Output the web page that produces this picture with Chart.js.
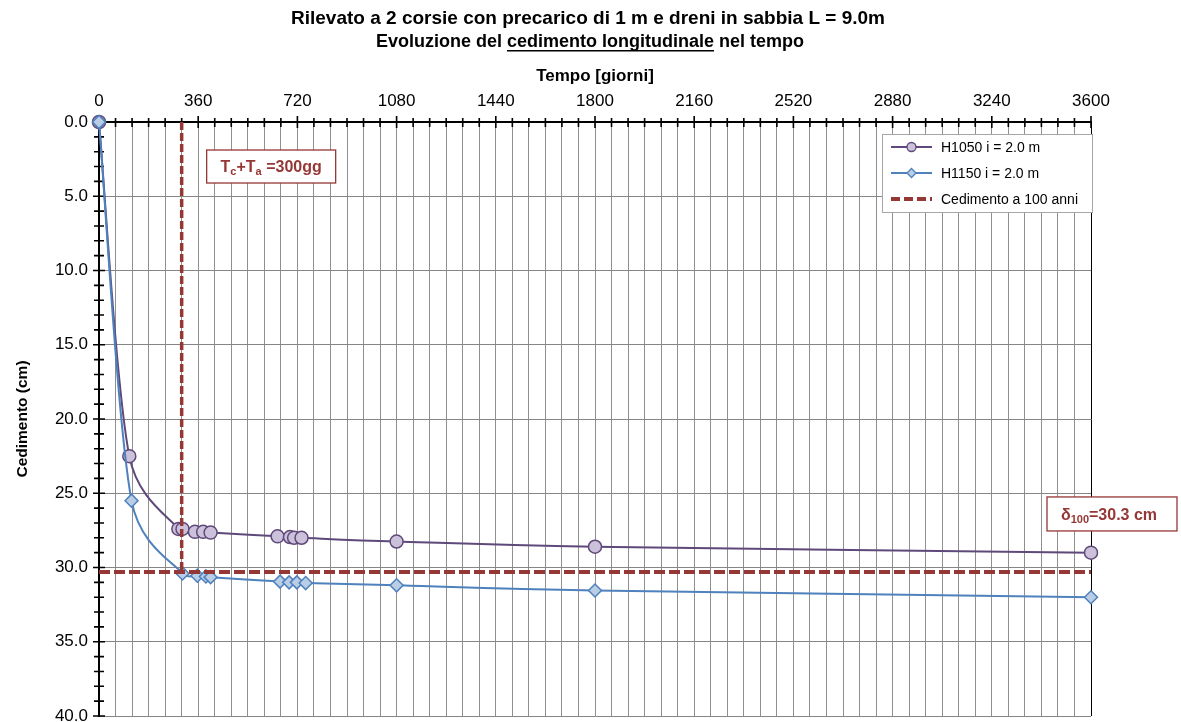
<!DOCTYPE html>
<html>
<head>
<meta charset="utf-8">
<script src="https://cdn.jsdelivr.net/npm/chart.js@4.4.1/dist/chart.umd.min.js"></script>
<style>
  html, body { margin: 0; padding: 0; background: #fff; overflow: hidden; }
  #wrap { width: 1181px; height: 750px; }
</style>
</head>
<body>
<div id="wrap"><canvas id="cedChart" width="1181" height="750"></canvas></div>
<script>
// time (days) and settlement (cm)
const dayH1050 = [0, 110, 288, 303, 348, 378, 405, 648, 693, 708, 735, 1080, 1800, 3600];
const cedH1050 = [0, 22.5, 27.4, 27.4, 27.6, 27.6, 27.65, 27.9, 27.95, 28.0, 28.0, 28.25, 28.6, 29.0];
const dayH1150 = [0, 118, 303, 357, 388, 405, 657, 690, 718, 750, 1080, 1800, 3600];
const cedH1150 = [0, 25.5, 30.4, 30.55, 30.6, 30.65, 30.95, 31.0, 31.0, 31.05, 31.2, 31.55, 32.0];

const TcTa = 300;       // gg
const delta100 = 30.3;  // cm, settlement at 100 years

const xMax = 3600, xMinorStep = 60, xMajorStep = 360;
const yMax = 40, yMinorStep = 1, yMajorStep = 5;

const seriesLabels = ['H1050 i = 2.0 m', 'H1150 i = 2.0 m', 'Cedimento a 100 anni'];
const titleLine1 = 'Rilevato a 2 corsie con precarico di 1 m e dreni in sabbia L = 9.0m';
const titleLine2 = [['Evoluzione del ', false], ['cedimento longitudinale', true], [' nel tempo', false]];

const purple = '#5f497a', purpleFill = '#ccc1da';
const blue = '#4f81bd', blueFill = '#b9cde5';
const red = '#953735';

Chart.defaults.font.family = '"Liberation Sans", Arial, sans-serif';
Chart.defaults.color = '#000';

const toPts = (xs, ys) => xs.map((d, i) => ({x: d, y: ys[i]}));

// title with underlined words
const titlePlugin = {
  id: 'titleLines',
  beforeDraw(chart) {
    const ctx = chart.ctx;
    const cx = 588;
    ctx.save();
    ctx.fillStyle = '#000';
    ctx.font = 'bold 19px "Liberation Sans", Arial, sans-serif';
    ctx.textAlign = 'center';
    ctx.textBaseline = 'middle';
    ctx.fillText(titleLine1, cx, 19);
    ctx.font = 'bold 18px "Liberation Sans", Arial, sans-serif';
    const full = titleLine2.map(p => p[0]).join('');
    let x = cx + 2 - ctx.measureText(full).width / 2;
    ctx.textAlign = 'left';
    titleLine2.forEach(([t, u]) => {
      const w = ctx.measureText(t).width;
      ctx.fillText(t, x, 42);
      if (u) {
        ctx.fillRect(x, 50, w, 1.5);
      }
      x += w;
    });
    ctx.restore();
  }
};

// spreadsheet-style smoothing: tangent = (next - prev) / 6, capped at half of each segment
const smoothLines = {
  id: 'smoothLines',
  beforeDatasetsDraw(chart) {
    [0, 1].forEach(i => {
      const meta = chart.getDatasetMeta(i);
      meta.dataset.updateControlPoints(chart.chartArea, 'x');
      const pts = meta.data;
      pts.forEach((p, k) => {
        const prev = pts[Math.max(k - 1, 0)];
        const next = pts[Math.min(k + 1, pts.length - 1)];
        const tx = (next.x - prev.x) / 6, ty = (next.y - prev.y) / 6;
        const tl = Math.hypot(tx, ty) || 1;
        const l1 = Math.min(tl, 0.5 * Math.hypot(p.x - prev.x, p.y - prev.y));
        const l2 = Math.min(tl, 0.5 * Math.hypot(next.x - p.x, next.y - p.y));
        p.cp1x = p.x - tx / tl * l1; p.cp1y = p.y - ty / tl * l1;
        p.cp2x = p.x + tx / tl * l2; p.cp2y = p.y + ty / tl * l2;
      });
    });
  }
};

// tick marks crossing the axes
const axisTicks = {
  id: 'axisTicks',
  beforeDatasetsDraw(chart) {
    const {ctx, chartArea: a, scales: {x, y}} = chart;
    ctx.save();
    ctx.strokeStyle = '#000';
    ctx.lineWidth = 1.6;
    ctx.beginPath();
    for (let d = 0; d <= xMax; d += xMinorStep) {
      const px = x.getPixelForValue(d);
      const big = d % xMajorStep === 0;
      ctx.moveTo(px, a.top - (big ? 6 : 4));
      ctx.lineTo(px, a.top + (big ? 6 : 5));
    }
    for (let c = 0; c <= yMax; c += yMinorStep) {
      const py = y.getPixelForValue(c);
      const big = c % yMajorStep === 0;
      ctx.moveTo(a.left - (big ? 6 : 5), py);
      ctx.lineTo(a.left + (big ? 6 : 5), py);
    }
    ctx.stroke();
    ctx.restore();
  }
};

function drawRich(ctx, parts, cx, cy, size) {
  const big = 'bold ' + size + 'px "Liberation Sans", Arial, sans-serif';
  const small = 'bold ' + Math.round(size * 0.68) + 'px "Liberation Sans", Arial, sans-serif';
  let total = 0;
  parts.forEach(p => { ctx.font = p.sub ? small : big; total += ctx.measureText(p.t).width; });
  let x = cx - total / 2;
  ctx.textAlign = 'left';
  ctx.textBaseline = 'alphabetic';
  parts.forEach(p => {
    ctx.font = p.sub ? small : big;
    ctx.fillText(p.t, x, cy + size * 0.36 + (p.sub ? 3 : 0));
    x += ctx.measureText(p.t).width;
  });
}

// red label boxes + legend
const notes = {
  id: 'notes',
  afterDatasetsDraw(chart) {
    const {ctx, chartArea: a, scales: {x, y}} = chart;
    ctx.save();
    // Tc+Ta box
    let bx = x.getPixelForValue(TcTa) + 25, by = a.top + 28, bw = 129, bh = 33;
    ctx.fillStyle = '#fff';
    ctx.fillRect(bx, by, bw, bh);
    ctx.strokeStyle = red;
    ctx.lineWidth = 1.3;
    ctx.strokeRect(bx, by, bw, bh);
    ctx.fillStyle = red;
    drawRich(ctx, [{t: 'T'}, {t: 'c', sub: true}, {t: '+T'}, {t: 'a', sub: true}, {t: ' =' + TcTa + 'gg'}],
      bx + bw / 2, by + bh / 2, 16);
    // delta100 box
    bx = a.right - 44; by = y.getPixelForValue(delta100) - 75; bw = 130; bh = 34;
    ctx.fillStyle = '#fff';
    ctx.fillRect(bx, by, bw, bh);
    ctx.strokeRect(bx, by, bw, bh);
    ctx.fillStyle = red;
    drawRich(ctx, [{t: 'δ'}, {t: '100', sub: true}, {t: '=' + delta100.toFixed(1) + ' cm'}],
      bx + bw / 2 - 3, by + bh / 2, 16);

    // legend
    const lx = a.right - 209, ly = a.top + 12, lw = 210, lh = 78;
    ctx.fillStyle = '#fff';
    ctx.fillRect(lx, ly, lw, lh);
    ctx.strokeStyle = '#a6a6a6';
    ctx.lineWidth = 1;
    ctx.strokeRect(lx + 0.5, ly + 0.5, lw, lh);
    ctx.font = '14px "Liberation Sans", Arial, sans-serif';
    ctx.textBaseline = 'middle';
    ctx.textAlign = 'left';
    const items = [chart.data.datasets[0], chart.data.datasets[1], chart.data.datasets[2]];
    items.forEach((ds, i) => {
      const ry = ly + 13 + i * 26;
      const x0 = lx + 9, x1 = lx + 50, xm = (x0 + x1) / 2;
      ctx.strokeStyle = ds.borderColor;
      ctx.lineWidth = ds.borderDash ? 4 : 2;
      ctx.setLineDash(ds.borderDash ? [9, 4] : []);
      ctx.beginPath();
      ctx.moveTo(x0, ry); ctx.lineTo(x1, ry);
      ctx.stroke();
      ctx.setLineDash([]);
      if (ds.pointRadius) {
        ctx.fillStyle = ds.pointBackgroundColor;
        ctx.strokeStyle = ds.pointBorderColor;
        ctx.lineWidth = 1.3;
        ctx.beginPath();
        if (ds.pointStyle === 'circle') {
          ctx.arc(xm, ry, 4.5, 0, Math.PI * 2);
        } else {
          ctx.moveTo(xm, ry - 4.5); ctx.lineTo(xm + 4.5, ry);
          ctx.lineTo(xm, ry + 4.5); ctx.lineTo(xm - 4.5, ry); ctx.closePath();
        }
        ctx.fill(); ctx.stroke();
      }
      ctx.fillStyle = '#000';
      ctx.fillText(ds.label, lx + 59, ry + 1);
    });
    ctx.restore();
  }
};

const ctx1 = document.getElementById('cedChart');

const cedChart = new Chart(ctx1, {
  type: 'line',
  data: {
    datasets: [
      {
        label: seriesLabels[0],
        data: toPts(dayH1050, cedH1050),
        borderColor: purple,
        borderWidth: 2,
        pointStyle: 'circle',
        pointRadius: 6.5,
        pointBackgroundColor: purpleFill,
        pointBorderColor: purple,
        pointBorderWidth: 1.5,
        tension: 0.35,
        clip: false,
        order: 3
      },
      {
        label: seriesLabels[1],
        data: toPts(dayH1150, cedH1150),
        borderColor: blue,
        borderWidth: 2,
        pointStyle: 'rectRot',
        pointRadius: 6.5,
        pointBackgroundColor: blueFill,
        pointBorderColor: blue,
        pointBorderWidth: 1.5,
        tension: 0.35,
        clip: false,
        order: 2
      },
      {
        label: seriesLabels[2],
        data: [{x: 0, y: delta100}, {x: xMax, y: delta100}],
        borderColor: red,
        borderWidth: 4,
        borderDash: [11, 4],
        pointRadius: 0,
        order: 1
      },
      {
        label: 'Tc+Ta',
        data: [{x: TcTa, y: 0}, {x: TcTa, y: delta100}],
        borderColor: red,
        borderWidth: 3.5,
        borderDash: [8, 3],
        pointRadius: 0,
        order: 0
      }
    ]
  },
  options: {
    responsive: false,
    animation: false,
    devicePixelRatio: 1,
    layout: {
      padding: {top: 58, right: 90, bottom: 34, left: 0}
    },
    plugins: {
      legend: {display: false},
      tooltip: {enabled: false}
    },
    scales: {
      x: {
        type: 'linear',
        position: 'top',
        min: 0,
        max: xMax,
        afterFit: (s) => { s.height = 64; },
        title: {
          display: true,
          text: 'Tempo [giorni]',
          font: {size: 17, weight: 'bold'},
          padding: {top: 8, bottom: 0}
        },
        ticks: {
          stepSize: xMinorStep,
          autoSkip: false,
          maxRotation: 0,
          padding: 10,
          font: {size: 17},
          callback: (v) => (v % xMajorStep === 0 ? String(v) : '')
        },
        grid: {
          drawTicks: false,
          lineWidth: 1,
          color: (c) => (c.tick && c.tick.value === xMax ? '#000' : '#8f8f8f')
        },
        border: {display: true, color: '#000', width: 2}
      },
      y: {
        type: 'linear',
        reverse: true,
        min: 0,
        max: yMax,
        afterFit: (s) => { s.width = 99; },
        title: {
          display: true,
          text: 'Cedimento (cm)',
          font: {size: 15.5, weight: 'bold'},
          padding: {top: 13, bottom: 0}
        },
        ticks: {
          stepSize: yMinorStep,
          autoSkip: false,
          padding: 11,
          font: {size: 17},
          callback: (v) => (v % yMajorStep === 0 ? v.toFixed(1) : '')
        },
        grid: {
          drawTicks: false,
          lineWidth: 1,
          color: (c) => (c.tick && c.tick.value % yMajorStep === 0 ? '#858585' : 'rgba(0,0,0,0)')
        },
        border: {display: true, color: '#000', width: 2}
      }
    }
  },
  plugins: [titlePlugin, smoothLines, axisTicks, notes]
});
</script>
</body>
</html>
